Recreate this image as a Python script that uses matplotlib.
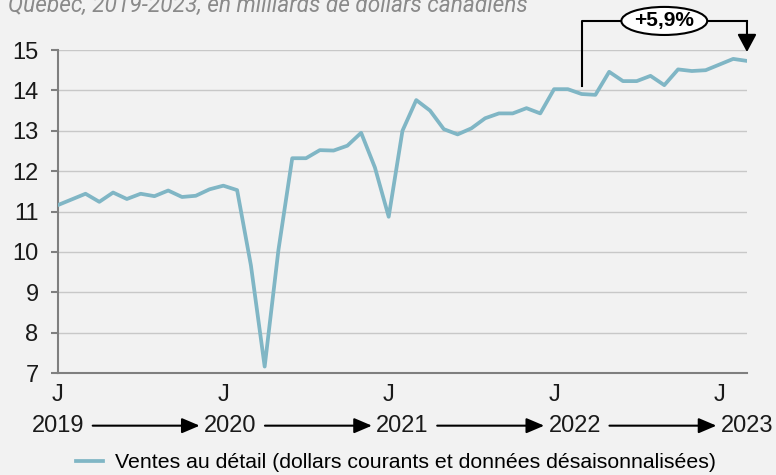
import matplotlib
matplotlib.use("Agg")
import matplotlib.pyplot as plt
import numpy as np

# Ventes au détail, Québec, janv. 2019 - mars 2023 (milliards $)
ventes = [11.16, 11.30, 11.44, 11.24, 11.47, 11.31, 11.44, 11.38, 11.52, 11.36, 11.39, 11.55,
          11.64, 11.53, 9.67, 7.16, 10.05, 12.32, 12.32, 12.52, 12.51, 12.63, 12.95, 12.09,
          10.87, 13.00, 13.76, 13.50, 13.04, 12.91, 13.06, 13.31, 13.43, 13.43, 13.56, 13.43,
          14.03, 14.03, 13.91, 13.89, 14.46, 14.23, 14.23, 14.36, 14.13, 14.52, 14.48, 14.50,
          14.64, 14.78, 14.73]
annees = ["2019", "2020", "2021", "2022", "2023"]
mois_labels = ["J", "J", "J", "J", "J"]
variation = "+5,9%"
debut_var, fin_var = 38, 50
legende = "Ventes au détail (dollars courants et données désaisonnalisées)"
sous_titre = "Québec, 2019-2023, en milliards de dollars canadiens"

bg = "#f2f2f2"
couleur = "#80b6c5"
fs = 17
plt.rcParams["font.family"] = ["Liberation Sans", "DejaVu Sans"]

fig = plt.figure(figsize=(7.76, 4.75), dpi=100, facecolor=bg)
ax = fig.add_axes([0.0747, 0.2147, 0.8879, 0.68])
ax.set_facecolor(bg)

x = np.arange(len(ventes))
line, = ax.plot(x, ventes, color=couleur, lw=2.7, solid_joinstyle="round", zorder=3)

ax.set_xlim(0, len(ventes) - 1)
ax.set_ylim(7, 15)
ax.set_yticks(range(7, 16))
ax.yaxis.grid(True, color="#c8c8c8", lw=1)
ax.set_axisbelow(True)
for s in ["top", "right"]:
    ax.spines[s].set_visible(False)
for s in ["left", "bottom"]:
    ax.spines[s].set_color("#7f7f7f")
    ax.spines[s].set_linewidth(1.5)
ax.tick_params(axis="y", length=5, width=1.5, color="#7f7f7f", pad=9, labelsize=fs,
               labelcolor="#1a1a1a")
ax.set_xticks(np.arange(0, len(ventes), 12), mois_labels)
ax.tick_params(axis="x", length=0, pad=8, labelsize=fs, labelcolor="#1a1a1a")

# Années et flèches
pos_annees = np.linspace(0, len(ventes) - 1, len(annees))
tr = ax.get_xaxis_transform()
for i, (p, a) in enumerate(zip(pos_annees, annees)):
    ax.text(p, -0.163, a, transform=tr, ha="center", va="center", fontsize=fs, color="#1a1a1a")
    if i < len(annees) - 1:
        ax.annotate("", xy=(pos_annees[i + 1], -0.163), xytext=(p, -0.163),
                    xycoords=tr, textcoords=tr,
                    arrowprops=dict(arrowstyle="-|>,head_length=0.54,head_width=0.23",
                                    mutation_scale=20, lw=1.5, color="black",
                                    shrinkA=25, shrinkB=22))

# Variation annotée
haut = 15.72
ax.plot([debut_var, debut_var, fin_var], [ventes[debut_var] + 0.2, haut, haut],
        color="black", lw=1.5, clip_on=False, zorder=4)
ax.annotate("", xy=(fin_var, ventes[fin_var] + 0.22), xytext=(fin_var, haut),
            arrowprops=dict(arrowstyle="-|>,head_length=0.54,head_width=0.29",
                            mutation_scale=20, lw=1.5, color="black", shrinkA=0, shrinkB=0),
            annotation_clip=False, zorder=4)
ax.text((debut_var + fin_var) / 2, haut, variation, ha="center", va="center",
        fontsize=15, fontweight="bold", color="black", zorder=5,
        bbox=dict(boxstyle="ellipse,pad=0.02", fc="white", ec="black", lw=1.5))

fig.text(8 / 776, 1 - 12 / 475, sous_titre, family="Roboto", style="italic",
         fontsize=16.3, color="#8a8a8a", va="baseline")

fig.legend([line], [legende], loc="center", bbox_to_anchor=(396 / 776, 1 - 463 / 475),
           frameon=False, fontsize=15.3, handlelength=1.3, handletextpad=0.55)

fig.savefig("out.png", dpi=100, facecolor=bg)
